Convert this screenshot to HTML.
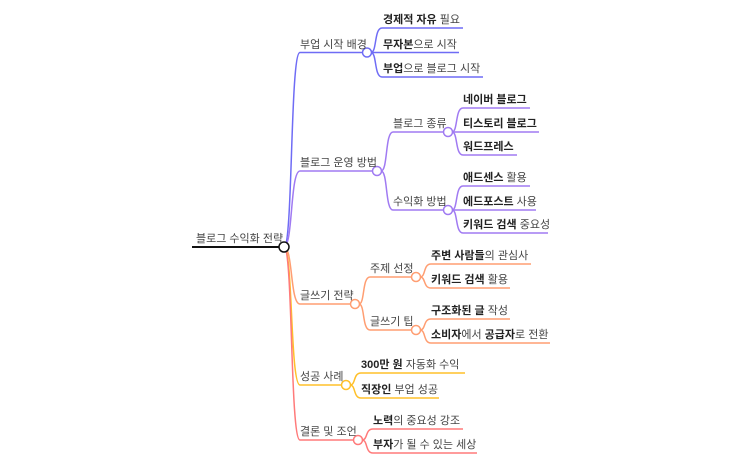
<!DOCTYPE html>
<html><head><meta charset="utf-8"><style>
html,body{margin:0;padding:0;background:#fff;}
svg{display:block}
text{font-family:"Liberation Sans","Noto Sans CJK KR",sans-serif;font-size:11px;fill:#444}
.b{font-weight:bold;fill:#222}
</style></head><body>
<svg width="743" height="464" viewBox="0 0 743 464" xmlns="http://www.w3.org/2000/svg">
<g fill="none" stroke-width="1.5">
<!-- root -->
<line x1="192" y1="247" x2="280" y2="247" stroke="#111" stroke-width="2"/>
<!-- branch 1 blue -->
<g stroke="#6f6cf5">
<path d="M284 247 C293 247 290 52 300 52.5 L363 52.5"/>
<path d="M371 52.5 C377 52.5 374 28 382 28 L463 28"/>
<path d="M371 52.5 L459 52.5"/>
<path d="M371 52.5 C377 52.5 374 77 382 77 L483 77"/>
<circle cx="367" cy="52.5" r="4.5" fill="#fff"/>
</g>
<!-- branch 2 purple -->
<g stroke="#a07af2">
<path d="M284 247 C293 247 290 171 300 171 L373 171"/>
<path d="M381 171 C388 171 385 132 393 132 L444 132"/>
<path d="M381 171 C388 171 385 210 393 210 L444 210"/>
<path d="M452 132 C458 132 455 108 463 108 L530 108"/>
<path d="M452 132 L539 132"/>
<path d="M452 132 C458 132 455 155 463 155 L517 155"/>
<path d="M452 210 C458 210 455 186 463 186 L530 186"/>
<path d="M452 210 L536 210"/>
<path d="M452 210 C458 210 455 233 463 233 L548 233"/>
<circle cx="377" cy="171" r="4.5" fill="#fff"/>
<circle cx="448" cy="132" r="4.5" fill="#fff"/>
<circle cx="448" cy="210" r="4.5" fill="#fff"/>
</g>
<!-- branch 3 orange -->
<g stroke="#ff9e72">
<path d="M284 247 C293 247 290 304 300 304 L351 304"/>
<path d="M359 304 C365 304 362 277 370 277 L412 277"/>
<path d="M359 304 C365 304 362 330 370 330 L412 330"/>
<path d="M420 277 C426 277 423 264 431 264 L531 264"/>
<path d="M420 277 C426 277 423 288 431 288 L510 288"/>
<path d="M420 330 C426 330 423 319 431 319 L510 319"/>
<path d="M420 330 C426 330 423 343 431 343 L550 343"/>
<circle cx="355" cy="304" r="4.5" fill="#fff"/>
<circle cx="416" cy="277" r="4.5" fill="#fff"/>
<circle cx="416" cy="330" r="4.5" fill="#fff"/>
</g>
<!-- branch 4 yellow -->
<g stroke="#ffc02a">
<path d="M284 247 C293 247 290 385 300 385 L342 385"/>
<path d="M350 385 C356 385 353 373 361 373 L465 373"/>
<path d="M350 385 C356 385 353 398 361 398 L439 398"/>
<circle cx="346" cy="385" r="4.5" fill="#fff"/>
</g>
<!-- branch 5 red -->
<g stroke="#ff7a7a">
<path d="M284 247 C293 247 290 440 300 440 L354 440"/>
<path d="M362 440 C368 440 365 429 373 429 L463 429"/>
<path d="M362 440 C368 440 365 453 373 453 L477 453"/>
<circle cx="358" cy="440" r="4.5" fill="#fff"/>
</g>
<circle cx="284" cy="247" r="5" stroke="#111" fill="#fff"/>
</g>
<text x="196" y="242">블로그 수익화 전략</text>
<text x="300" y="48">부업 시작 배경</text>
<text x="383" y="23"><tspan class="b">경제적 자유</tspan> 필요</text>
<text x="383" y="48"><tspan class="b">무자본</tspan>으로 시작</text>
<text x="383" y="72"><tspan class="b">부업</tspan>으로 블로그 시작</text>
<text x="300" y="166">블로그 운영 방법</text>
<text x="393" y="127">블로그 종류</text>
<text x="393" y="205">수익화 방법</text>
<text x="463" y="103" class="b">네이버 블로그</text>
<text x="463" y="127" class="b">티스토리 블로그</text>
<text x="463" y="150" class="b">워드프레스</text>
<text x="463" y="181"><tspan class="b">애드센스</tspan> 활용</text>
<text x="463" y="205"><tspan class="b">에드포스트</tspan> 사용</text>
<text x="463" y="228"><tspan class="b">키워드 검색</tspan> 중요성</text>
<text x="300" y="299">글쓰기 전략</text>
<text x="370" y="272">주제 선정</text>
<text x="370" y="325">글쓰기 팁</text>
<text x="431" y="259"><tspan class="b">주변 사람들</tspan>의 관심사</text>
<text x="431" y="283"><tspan class="b">키워드 검색</tspan> 활용</text>
<text x="431" y="314"><tspan class="b">구조화된 글</tspan> 작성</text>
<text x="431" y="338"><tspan class="b">소비자</tspan>에서 <tspan class="b">공급자</tspan>로 전환</text>
<text x="300" y="380">성공 사례</text>
<text x="361" y="368"><tspan class="b">300만 원</tspan> 자동화 수익</text>
<text x="361" y="393"><tspan class="b">직장인</tspan> 부업 성공</text>
<text x="300" y="435">결론 및 조언</text>
<text x="373" y="424"><tspan class="b">노력</tspan>의 중요성 강조</text>
<text x="373" y="448"><tspan class="b">부자</tspan>가 될 수 있는 세상</text>
</svg>
</body></html>
